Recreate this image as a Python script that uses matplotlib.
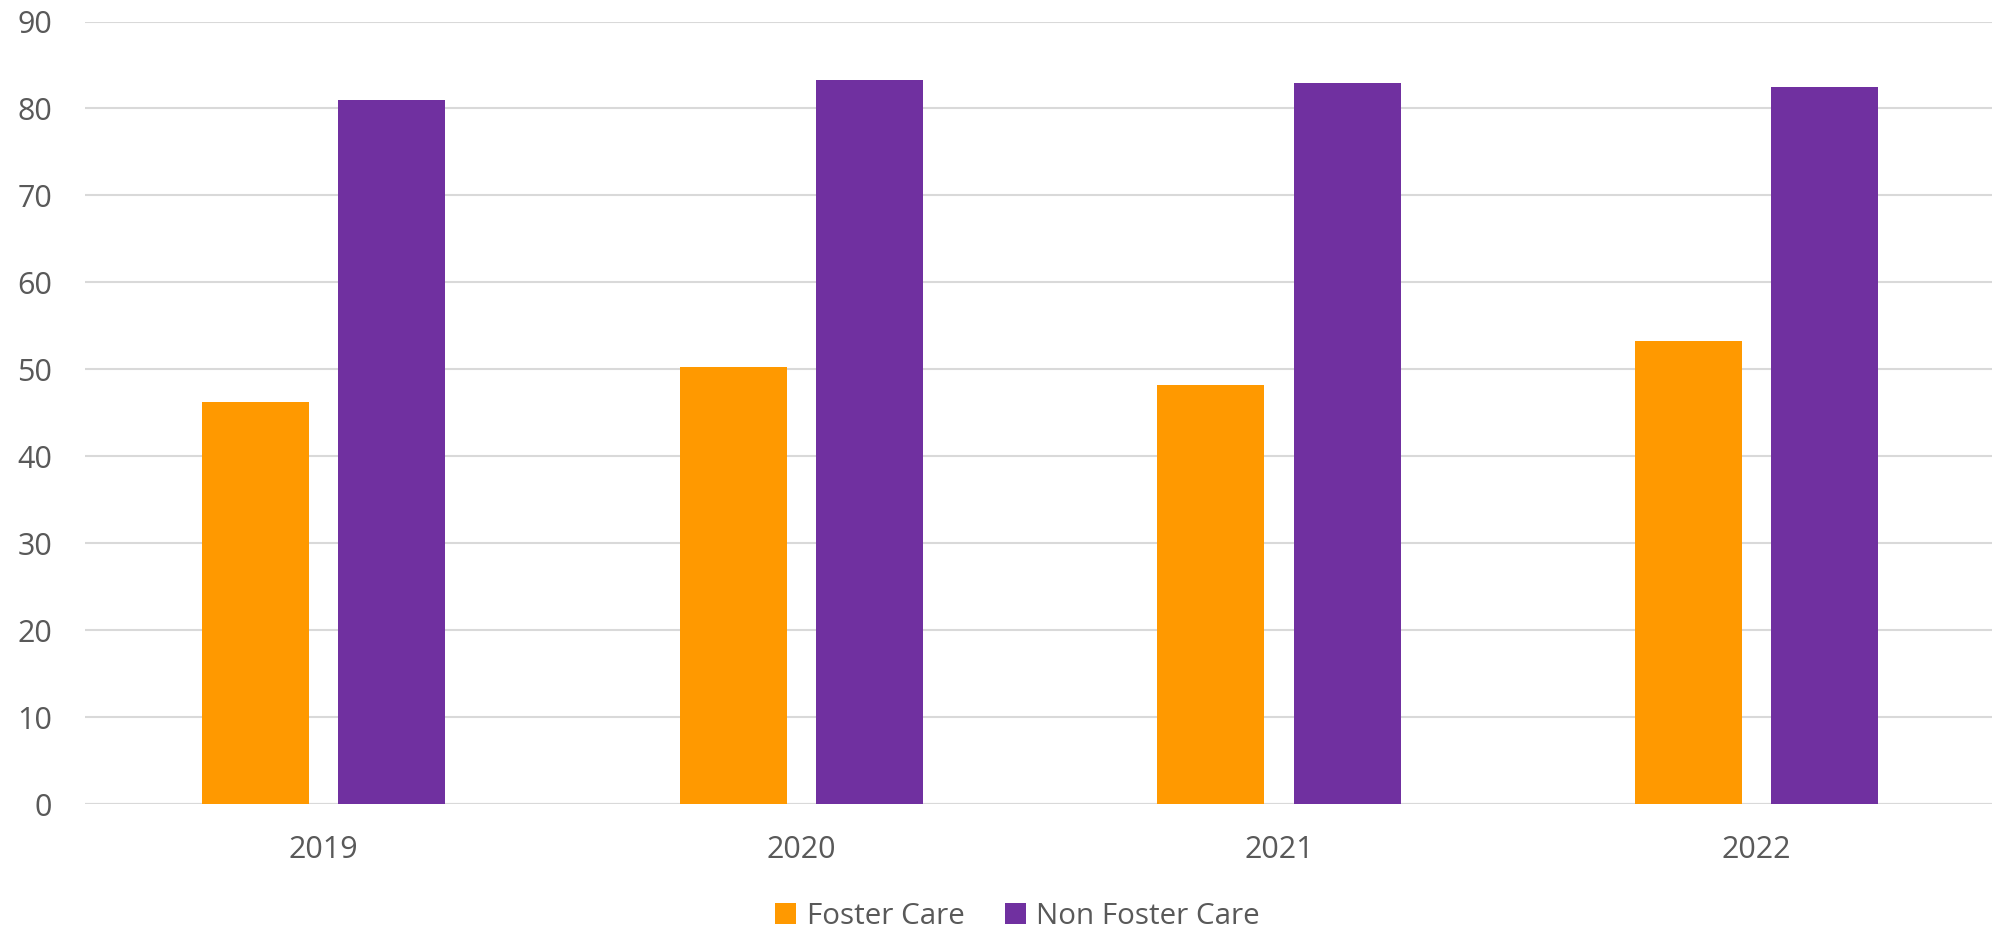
import matplotlib
matplotlib.use("Agg")
import matplotlib.pyplot as plt
import numpy as np
from matplotlib.patches import Patch

years = ["2019", "2020", "2021", "2022"]
foster_care = [46.2, 50.3, 48.2, 53.3]
non_foster_care = [81.0, 83.3, 82.9, 82.5]
series_names = ["Foster Care", "Non Foster Care"]
y_ticks = [0, 10, 20, 30, 40, 50, 60, 70, 80, 90]

ORANGE = "#FF9900"
PURPLE = "#7030A0"
TEXT = "#595959"
GRID = "#D9D9D9"

plt.rcParams["font.family"] = ["Open Sans", "DejaVu Sans"]

W, H = 1992, 934
fig = plt.figure(figsize=(W / 100, H / 100), dpi=100)
left, right, bottom, top = 85, 1995.4, 804, 21.5
ax = fig.add_axes([left / W, 1 - bottom / H, (right - left) / W, (bottom - top) / H])

x = np.arange(len(years))
width = 0.224
offset = 0.1424
ax.bar(x - offset, foster_care, width, color=ORANGE, zorder=3)
ax.bar(x + offset, non_foster_care, width, color=PURPLE, zorder=3)

ax.set_xlim(-0.5, len(years) - 0.5)
ax.set_ylim(0, 90)
ax.set_yticks(y_ticks)
ax.set_xticks(x)
ax.set_xticklabels(years)
ax.yaxis.grid(True, color=GRID, linewidth=1.5, zorder=0)
ax.set_axisbelow(True)
for side in ["top", "right", "left", "bottom"]:
    ax.spines[side].set_visible(False)
ax.tick_params(axis="both", length=0, labelsize=22, labelcolor=TEXT)
ax.tick_params(axis="y", pad=23.5)
ax.tick_params(axis="x", pad=22)
ax.axhline(0, color=GRID, linewidth=1.5, zorder=1)

handles = [Patch(facecolor=ORANGE), Patch(facecolor=PURPLE)]
fig.legend(handles, series_names, loc="center", bbox_to_anchor=(1017.5 / W, 1 - 916 / H),
           ncol=2, frameon=False, fontsize=21.3, labelcolor=TEXT,
           handlelength=0.72, handleheight=0.72, handletextpad=0.35, columnspacing=1.35)

fig.savefig("out.png", dpi=100, facecolor="white")
